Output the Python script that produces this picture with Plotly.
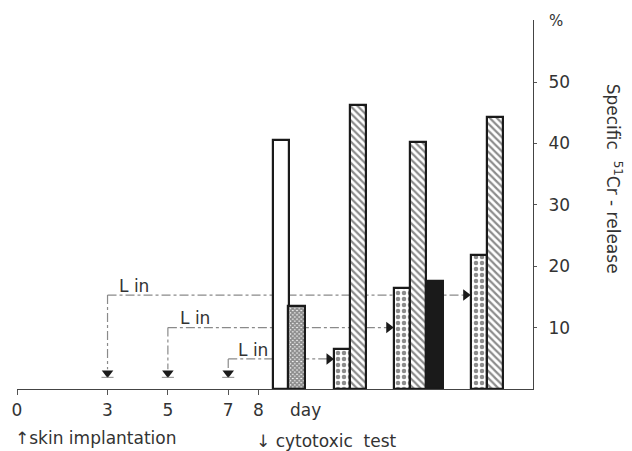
import plotly.graph_objects as go

# Specific 51Cr-release (%) measured in the cytotoxic test
open_pos, open_val = [8.76], [40.5]
cross_pos, cross_val = [9.26], [13.5]
dot_pos, dot_val = [10.78, 12.76, 15.31], [6.5, 16.5, 21.8]
hatch_pos, hatch_val = [11.30, 13.30, 15.84], [46.3, 40.2, 44.3]
black_pos, black_val = [13.84], [17.6]

# Lymphocyte ("L in") transfer days and the release level each one leads to
lin_days = [3, 5, 7]
lin_levels = [15.3, 10.0, 4.9]
lin_target = [15.31, 12.76, 10.78]   # dotted bar reached by each transfer line

day_ticks = [0, 3, 5, 7, 8]
pct_ticks = [10, 20, 30, 40, 50]

BAR_W = 0.54
INK = "#1a1a1a"
TXT = "#333"
FONT = "DejaVu Sans"

fig = go.Figure()

outline = dict(color=INK, width=2.2)

fig.add_bar(x=open_pos, y=open_val, width=BAR_W,
            marker=dict(color="white", line=outline))
fig.add_bar(x=cross_pos, y=cross_val, width=BAR_W,
            marker=dict(color="white", line=outline,
                        pattern=dict(shape="x", size=3, solidity=0.8,
                                     fgcolor=INK, bgcolor="white")))
fig.add_bar(x=dot_pos, y=dot_val, width=BAR_W,
            marker=dict(color="white", line=outline,
                        pattern=dict(shape=".", size=6, solidity=0.45,
                                     fgcolor=INK, bgcolor="white")))
fig.add_bar(x=hatch_pos, y=hatch_val, width=BAR_W,
            marker=dict(color="white", line=outline,
                        pattern=dict(shape="\\", size=5, solidity=0.45,
                                     fgcolor=INK, bgcolor="white")))
fig.add_bar(x=black_pos, y=black_val, width=BAR_W,
            marker=dict(color=INK, line=outline))

# dash-dot transfer lines: down to the injection day, across to the test bar
arrow_y = 2.6
for d, lvl, tgt in zip(lin_days, lin_levels, lin_target):
    tip = tgt - BAR_W / 2 - 0.17
    fig.add_shape(type="line", x0=d, x1=tip, y0=lvl, y1=lvl, layer="below",
                  line=dict(color="#8a8a8a", width=1.2, dash="dashdot"))
    fig.add_shape(type="line", x0=d, x1=d, y0=lvl, y1=arrow_y + 0.6, layer="below",
                  line=dict(color="#8a8a8a", width=1.2, dash="dashdot"))
    fig.add_shape(type="line", x0=d - 0.2, x1=d + 0.2, y0=arrow_y - 0.7,
                  y1=arrow_y - 0.7, line=dict(color="#8a8a8a", width=1))

fig.add_scatter(x=lin_days, y=[arrow_y] * len(lin_days), mode="markers",
                marker=dict(symbol="triangle-down", size=10, color=INK),
                hoverinfo="skip")
fig.add_scatter(x=[t - BAR_W / 2 - 0.17 for t in lin_target], y=lin_levels,
                mode="markers",
                marker=dict(symbol="triangle-right", size=10, color=INK),
                hoverinfo="skip")

# "L in" labels above each transfer line
for d, lvl, dx in zip(lin_days, lin_levels, [0.3, 0.33, 0.26]):
    fig.add_annotation(x=d + dx, y=lvl + 1.5, text="L in", showarrow=False,
                       xanchor="left", yanchor="middle",
                       font=dict(family=FONT, size=17, color=TXT))

fig.add_annotation(x=8.98, yref="paper", y=-0.057, text="day", showarrow=False,
                   xanchor="left", yanchor="middle",
                   font=dict(family=FONT, size=17, color=TXT))

# timeline markers under the axis
fig.add_annotation(xref="paper", x=0, xshift=-4, yref="paper", y=-0.132,
                   text="↑skin implantation",
                   showarrow=False, xanchor="left", yanchor="middle",
                   font=dict(family=FONT, size=17, color=TXT))
fig.add_annotation(x=7.85, yref="paper", y=-0.14, text="↓ cytotoxic  test",
                   showarrow=False, xanchor="left", yanchor="middle",
                   font=dict(family=FONT, size=17, color=TXT))

# axis title on the right, reading downwards
fig.add_annotation(xref="paper", yref="paper", x=1.0, xanchor="left", xshift=68,
                   y=0.57, text="Specific  <sup>51</sup>Cr - release",
                   textangle=90, showarrow=False,
                   font=dict(family=FONT, size=17, color=TXT))
fig.add_annotation(xref="paper", yref="paper", x=1.0, xanchor="left", xshift=14,
                   y=1.0, yanchor="bottom", yshift=-12, text="%",
                   showarrow=False, font=dict(family=FONT, size=15, color=TXT))

fig.update_layout(
    width=632, height=451,
    margin=dict(l=15, r=99, t=20, b=62),
    paper_bgcolor="white", plot_bgcolor="white",
    showlegend=False, barmode="overlay", bargap=0,
    xaxis=dict(range=[0, 17.1], tickvals=day_ticks, ticktext=[str(t) for t in day_ticks],
               ticks="outside", ticklen=5, tickcolor="#555", showgrid=False,
               zeroline=False, showline=True, linecolor="#444", linewidth=1.2,
               tickfont=dict(family=FONT, size=17, color=TXT)),
    yaxis=dict(range=[0, 60.1], side="right", tickvals=pct_ticks,
               ticks="outside", ticklen=3, tickcolor="#555", showgrid=False,
               zeroline=False, showline=True, linecolor="#444", linewidth=1.2,
               ticklabelstandoff=8,
               tickfont=dict(family=FONT, size=17, color=TXT)),
)

fig.write_html("out.html")
